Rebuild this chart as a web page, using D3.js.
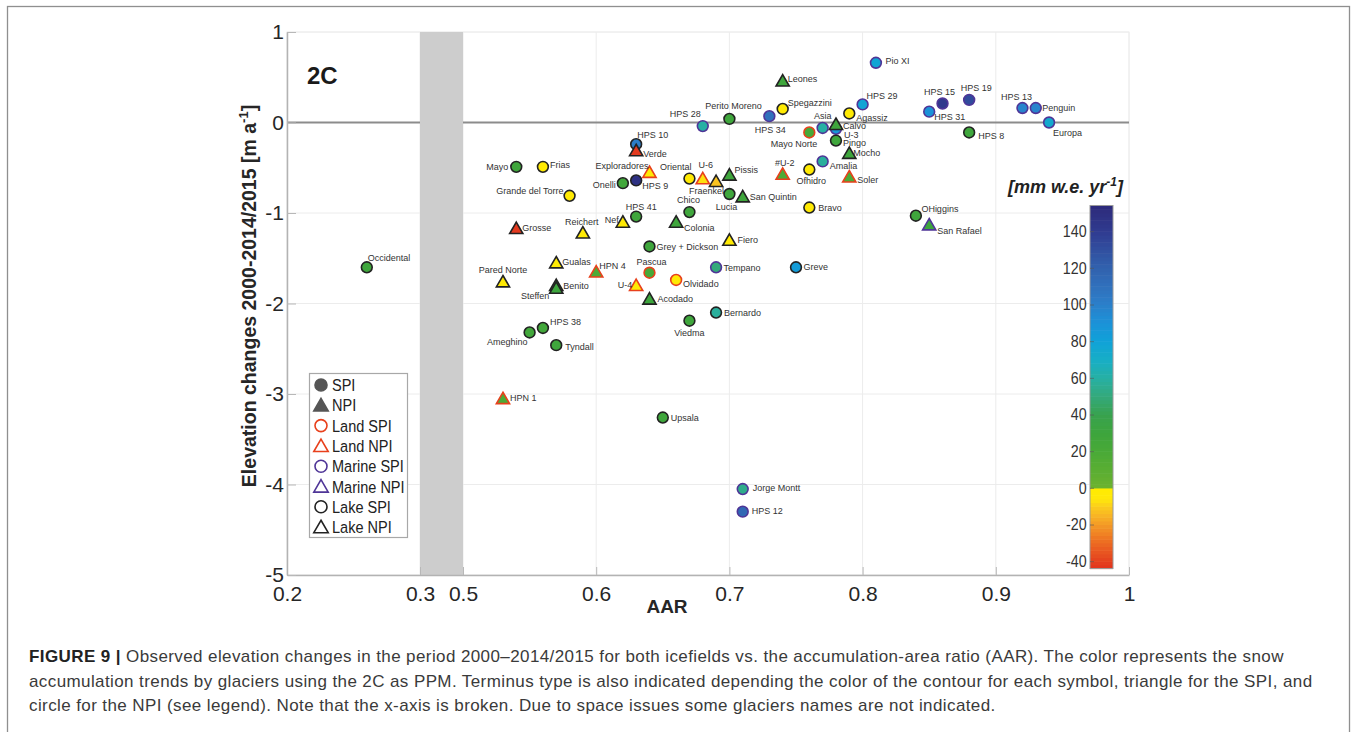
<!DOCTYPE html>
<html>
<head>
<meta charset="utf-8">
<script src="https://cdn.jsdelivr.net/npm/d3@7"></script>
<style>
  body { margin: 0; background: #fff; }
  svg text { font-family: "Liberation Sans", Arial, Helvetica, sans-serif; }
</style>
</head>
<body>
<svg id="fig" width="1357" height="732"></svg>
<script>
// ---- Glacier data: AAR, elevation change (m a-1), snow accumulation trend (mm w.e. yr-1)
const glaciers = ["Occidental","Mayo","Frias","Grande del Torre","Grosse","Reichert","Nef","HPS 41",
  "HPS 10","Verde","Exploradores","HPS 9","Onelli","Grey + Dickson","Gualas","Pared Norte",
  "Benito","Steffen","HPN 4","Pascua","U-4","HPS 38","Ameghino","Tyndall","HPN 1","Upsala",
  "Acodado","Olvidado","Viedma","Bernardo","Tempano","Greve","Jorge Montt","HPS 12","HPS 28",
  "Perito Moreno","HPS 34","Spegazzini","Agassiz","HPS 29","Asia","U-3","Calvo","Mayo Norte",
  "Pingo","Mocho","Amalia","Ofhidro","Soler","#U-2","Bravo","Oriental","U-6","Fraenkel","Pissis",
  "Lucia","San Quintin","Chico","Colonia","Fiero","Leones","Pio XI","HPS 15","HPS 31","HPS 19",
  "HPS 8","HPS 13","Penguin","Europa","OHiggins","San Rafael"];
const aar = [0.26,0.54,0.56,0.58,0.54,0.59,0.62,0.63,
  0.63,0.63,0.64,0.63,0.62,0.64,0.57,0.53,
  0.57,0.57,0.60,0.64,0.63,0.56,0.55,0.57,0.53,0.65,
  0.64,0.66,0.67,0.69,0.69,0.75,0.71,0.71,0.68,
  0.70,0.73,0.74,0.79,0.80,0.77,0.78,0.78,0.76,
  0.78,0.79,0.77,0.76,0.79,0.74,0.76,0.67,0.68,0.69,0.70,
  0.70,0.71,0.67,0.66,0.70,0.74,0.81,0.86,0.85,0.88,
  0.88,0.92,0.93,0.94,0.84,0.85];
const dhdt = [-1.60,-0.49,-0.49,-0.81,-1.17,-1.22,-1.10,-1.04,
  -0.24,-0.31,-0.55,-0.64,-0.67,-1.37,-1.55,-1.76,
  -1.80,-1.83,-1.65,-1.66,-1.80,-2.27,-2.32,-2.46,-3.05,-3.26,
  -1.95,-1.74,-2.19,-2.10,-1.60,-1.60,-4.05,-4.30,-0.04,
  0.04,0.07,0.15,0.10,0.20,-0.06,-0.07,-0.02,-0.11,
  -0.20,-0.34,-0.43,-0.52,-0.60,-0.57,-0.94,-0.62,-0.62,-0.65,-0.58,
  -0.79,-0.82,-0.99,-1.10,-1.30,0.46,0.66,0.21,0.12,0.25,
  -0.11,0.16,0.16,0.00,-1.03,-1.13];
const accumTrend = [28,28,-2,-2,-42,-3,-3,28,
  102,-42,-3,148,26,28,-3,-3,
  30,30,18,22,-3,26,26,28,18,28,
  30,-2,28,58,50,84,54,116,60,
  28,110,-2,-2,78,60,88,28,22,
  28,28,58,-2,18,18,-2,-2,-7,-12,28,
  28,28,28,28,-2,28,78,142,90,132,
  28,98,98,74,28,30];
const icefield = ["SPI","SPI","SPI","SPI","NPI","NPI","NPI","SPI",
  "SPI","NPI","NPI","SPI","SPI","SPI","NPI","NPI",
  "NPI","NPI","NPI","SPI","NPI","SPI","SPI","SPI","NPI","SPI",
  "NPI","SPI","SPI","SPI","SPI","SPI","SPI","SPI","SPI",
  "SPI","SPI","SPI","SPI","SPI","SPI","SPI","NPI","SPI",
  "SPI","NPI","SPI","SPI","NPI","NPI","SPI","SPI","NPI","NPI","NPI",
  "SPI","NPI","SPI","NPI","NPI","NPI","SPI","SPI","SPI","SPI",
  "SPI","SPI","SPI","SPI","SPI","NPI"];
const terminus = ["Lake","Lake","Lake","Lake","Lake","Lake","Lake","Lake",
  "Lake","Lake","Land","Lake","Lake","Lake","Lake","Lake",
  "Lake","Lake","Land","Land","Land","Lake","Lake","Lake","Land","Lake",
  "Lake","Land","Lake","Lake","Marine","Lake","Marine","Marine","Marine",
  "Lake","Marine","Lake","Lake","Marine","Marine","Marine","Lake","Land",
  "Lake","Lake","Marine","Lake","Land","Land","Lake","Lake","Land","Lake","Lake",
  "Lake","Lake","Lake","Lake","Lake","Lake","Marine","Marine","Marine","Marine",
  "Lake","Marine","Marine","Marine","Lake","Marine"];

// ---- Axis ticks and legend entries
const xTicks = [0.2, 0.3, 0.5, 0.6, 0.7, 0.8, 0.9, 1];
const yTicks = [1, 0, -1, -2, -3, -4, -5];
const cbTicks = [140, 120, 100, 80, 60, 40, 20, 0, -20, -40];
const legendItems = ["SPI", "NPI", "Land SPI", "Land NPI", "Marine SPI", "Marine NPI", "Lake SPI", "Lake NPI"];

// ---- Colour map for the accumulation trend (negative: yellow to red, positive: green to navy)
const cmapStops  = [-44, -40, -35, -30, -25, -20, -15, -10, -6, 0, 0.001, 10, 20, 30, 40, 50, 60, 70, 80, 90, 100, 110, 120, 130, 140, 154];
const cmapColors = ["#e2331e","#e4401f","#e85521","#ec6a22","#f08224","#f39a26","#f8b425","#fbcd1c","#ffe70a","#ffec00",
                    "#6cb22f","#5aae33","#49a937","#3da53d","#38a24e","#34a97b","#27b0a4","#17aec6","#10a2d8","#1b92d8",
                    "#2b80ca","#3070bc","#3162ae","#314f9f","#303b90","#2d2a7a"];
const cmap = d3.scaleLinear().domain(cmapStops).range(cmapColors).clamp(true);

// Terminus type sets the outline colour
const edgeColor = { Land: "#e8401c", Marine: "#4f3597", Lake: "#222222" };

// Label placement around each marker: [dx, dy, anchor]
const labelPlacement = {
  "Occidental":[1,-6.5,"start"], "Mayo":[-8,3.2,"end"], "Frias":[7,1.5,"start"],
  "Grande del Torre":[-6,-1.8,"end"], "Grosse":[6,2.2,"start"], "Reichert":[-1,-8.4,"middle"],
  "Nef":[-4,0.9,"end"], "HPS 41":[5,-6.8,"middle"], "HPS 10":[1,-6.1,"start"],
  "Verde":[7,6.8,"start"], "Exploradores":[-1,-2.8,"end"], "HPS 9":[6,8.5,"start"],
  "Onelli":[-7,4.9,"end"], "Grey + Dickson":[7,3.2,"start"], "Gualas":[6,2.2,"start"],
  "Pared Norte":[0,-8.4,"middle"], "Benito":[7,3.2,"start"], "Steffen":[-7,10.9,"end"],
  "HPN 4":[3,-2.4,"start"], "Pascua":[2,-7.8,"middle"], "U-4":[-4,2.5,"end"],
  "HPS 38":[7,-2.8,"start"], "Ameghino":[-2,12.9,"end"], "Tyndall":[9,4.8,"start"],
  "HPN 1":[7,2.9,"start"], "Upsala":[8,3.2,"start"], "Acodado":[8,3.5,"start"],
  "Olvidado":[7,7.2,"start"], "Viedma":[0,15.8,"middle"], "Bernardo":[8,3.6,"start"],
  "Tempano":[7.5,3.9,"start"], "Greve":[7.5,2.6,"start"], "Jorge Montt":[10,1.5,"start"],
  "HPS 12":[9,2.6,"start"], "HPS 28":[-2,-9.5,"end"], "Perito Moreno":[4,-9.8,"middle"],
  "HPS 34":[1,16.5,"middle"], "Spegazzini":[5,-2.8,"start"], "Agassiz":[7,7.6,"start"],
  "HPS 29":[4,-5.8,"start"], "Asia":[0,-9.1,"middle"], "U-3":[8,8.9,"start"],
  "Calvo":[7,4.9,"start"], "Mayo Norte":[8,14.2,"end"], "Pingo":[7,4.9,"start"],
  "Mocho":[4,2.6,"start"], "Amalia":[7,7.2,"start"], "Ofhidro":[2,14.9,"middle"],
  "Soler":[8,6.5,"start"], "#U-2":[2,-7.8,"middle"], "Bravo":[9,3.2,"start"],
  "Oriental":[2,-8.4,"end"], "U-6":[3,-11.1,"middle"], "Fraenkel":[8,12.5,"end"],
  "Pissis":[5,-1.8,"start"], "Lucia":[-3,16.2,"middle"], "San Quintin":[7,3.2,"start"],
  "Chico":[-1,-8.8,"middle"], "Colonia":[8,8.8,"start"], "Fiero":[8,2.5,"start"],
  "Leones":[5,0.8,"start"], "Pio XI":[9.5,1.2,"start"], "HPS 15":[-3,-8.8,"middle"],
  "HPS 31":[5,8.2,"start"], "HPS 19":[7,-8.4,"middle"], "HPS 8":[9,6.4,"start"],
  "HPS 13":[-6,-8.4,"middle"], "Penguin":[6.5,3.2,"start"], "Europa":[4,13.8,"start"],
  "OHiggins":[5.5,-3.5,"start"], "San Rafael":[8,8.8,"start"]
};

// ---- Layout
const svg = d3.select("#fig");
const plot = { left: 287, right: 1129, top: 32, bottom: 575 };

// Broken x axis: 0.2-0.3, gap, 0.5-1
const x = d3.scaleLinear().domain([0.2, 0.3, 0.5, 1]).range([plot.left, 420, 463, plot.right]);
const y = d3.scaleLinear().domain([-5, 1]).range([plot.bottom, plot.top]);

// Figure frame
svg.append("rect").attr("x", 7.5).attr("y", 6.5).attr("width", 1342).attr("height", 740)
  .attr("fill", "none").attr("stroke", "#8f8f8f").attr("stroke-width", 1.3);

// Plot background and grid
svg.append("rect").attr("x", plot.left).attr("y", plot.top)
  .attr("width", plot.right - plot.left).attr("height", plot.bottom - plot.top)
  .attr("fill", "#fff").attr("stroke", "#efefef");

const grid = svg.append("g").attr("stroke", "#ececec").attr("stroke-width", 1);
grid.selectAll("line.h").data(yTicks).join("line")
  .attr("x1", plot.left).attr("x2", plot.right).attr("y1", d => y(d)).attr("y2", d => y(d));
grid.selectAll("line.v").data(xTicks).join("line")
  .attr("x1", d => x(d)).attr("x2", d => x(d)).attr("y1", plot.top).attr("y2", plot.bottom);

// Zero reference line
svg.append("line").attr("x1", plot.left).attr("x2", plot.right)
  .attr("y1", y(0)).attr("y2", y(0)).attr("stroke", "#8c8c8c").attr("stroke-width", 2);

// Axis break band
svg.append("rect").attr("x", x(0.3)).attr("y", plot.top)
  .attr("width", x(0.5) - x(0.3)).attr("height", plot.bottom - plot.top).attr("fill", "#cdcdcd");

// Axes
const fmt = d => String(d);
const xAxis = svg.append("g").attr("transform", `translate(0,${plot.bottom})`)
  .call(d3.axisBottom(x).tickValues(xTicks).tickFormat(fmt).tickSizeInner(-8).tickSizeOuter(0).tickPadding(11));
const yAxis = svg.append("g").attr("transform", `translate(${plot.left},0)`)
  .call(d3.axisLeft(y).tickValues(yTicks).tickFormat(fmt).tickSizeInner(-9).tickSizeOuter(0).tickPadding(3));
[xAxis, yAxis].forEach(a => {
  a.select(".domain").attr("stroke", "#b3b3b3").attr("stroke-width", 1.5);
  a.selectAll(".tick line").attr("stroke", "#b8b8b8");
  a.selectAll(".tick text").attr("font-size", 21).attr("fill", "#262626");
});
xAxis.selectAll(".tick text").attr("dy", "0.72em");

// Axis titles
svg.append("text").attr("x", 667).attr("y", 613).attr("text-anchor", "middle")
  .attr("font-size", 19).attr("font-weight", "bold").attr("fill", "#262626").text("AAR");

const yTitle = svg.append("text").attr("transform", "translate(256,296) rotate(-90)")
  .attr("text-anchor", "middle").attr("font-size", 19.5).attr("font-weight", "bold").attr("fill", "#262626");
yTitle.append("tspan").text("Elevation changes 2000-2014/2015 [m a");
yTitle.append("tspan").attr("font-size", 13).attr("dy", -8).text("-1");
yTitle.append("tspan").attr("dy", 8).text("]");

// Panel tag
svg.append("text").attr("x", 307).attr("y", 84).attr("font-size", 24)
  .attr("font-weight", "bold").attr("fill", "#1a1a1a").text("2C");

// ---- Markers
const circleSym = d3.symbol().type(d3.symbolCircle).size(Math.PI * 5.4 * 5.4);
function triPath(s) {
  const h = s * Math.sqrt(3);
  return `M0,${-h * 0.55}L${s},${h * 0.45}L${-s},${h * 0.45}Z`;
}

const pts = glaciers.map((name, i) => ({
  name, aar: aar[i], dh: dhdt[i], acc: accumTrend[i], field: icefield[i], term: terminus[i]
}));

const marks = svg.append("g");
pts.forEach(p => {
  marks.append("path")
    .attr("transform", `translate(${x(p.aar)},${y(p.dh)})`)
    .attr("d", p.field === "SPI" ? circleSym() : triPath(6.6))
    .attr("fill", cmap(p.acc))
    .attr("stroke", edgeColor[p.term])
    .attr("stroke-width", 1.6);
});

const labels = svg.append("g").attr("font-size", 9).attr("fill", "#333");
pts.forEach(p => {
  const pl = labelPlacement[p.name] || [7, 3, "start"];
  labels.append("text")
    .attr("x", x(p.aar) + pl[0]).attr("y", y(p.dh) + pl[1])
    .attr("text-anchor", pl[2]).text(p.name);
});

// ---- Legend
const lg = svg.append("g");
lg.append("rect").attr("x", 309.5).attr("y", 373.5).attr("width", 98).attr("height", 164)
  .attr("fill", "#fff").attr("stroke", "#a8a8a8").attr("stroke-width", 1.2);
const legendSym = d3.symbol().type(d3.symbolCircle).size(Math.PI * 6 * 6);
legendItems.forEach((item, i) => {
  const cy = 385 + i * 20.3;
  const isSPI = item.endsWith("SPI");
  const kind = item.split(" ")[0];
  const filled = item === "SPI" || item === "NPI";
  const col = filled ? "#555" : edgeColor[kind];
  lg.append("path").attr("transform", `translate(321,${cy})`)
    .attr("d", isSPI ? legendSym() : triPath(7.2))
    .attr("fill", filled ? "#555" : "none").attr("stroke", col).attr("stroke-width", 1.6);
  lg.append("text").attr("transform", `translate(332,${cy + 6}) scale(0.88,1)`)
    .attr("font-size", 16.5).attr("fill", "#222").text(item);
});

// ---- Colour bar
const cb = d3.scaleLinear().domain([-44, 154]).range([568.5, 205.5]);
const cbX = 1090, cbW = 23;
const cbSteps = d3.range(-44, 154, 2);
svg.append("g").selectAll("rect").data(cbSteps).join("rect")
  .attr("x", cbX).attr("width", cbW)
  .attr("y", d => cb(d + 2)).attr("height", d => cb(d) - cb(d + 2) + 0.6)
  .attr("fill", d => cmap(d + 1));
svg.append("rect").attr("x", cbX).attr("y", cb(154)).attr("width", cbW).attr("height", cb(-44) - cb(154))
  .attr("fill", "none").attr("stroke", "#9a9a9a").attr("stroke-width", 1);
const cbAxis = svg.append("g").attr("transform", `translate(${cbX},0)`)
  .call(d3.axisLeft(cb).tickValues(cbTicks).tickFormat(fmt).tickSizeInner(-4).tickSizeOuter(0).tickPadding(4));
cbAxis.select(".domain").remove();
cbAxis.selectAll(".tick line").attr("stroke", "#555").attr("stroke-opacity", 0.6);
cbAxis.selectAll(".tick text").attr("font-size", 16.8).attr("fill", "#333")
  .attr("transform", "scale(0.85,1)");

const cbTitle = svg.append("text").attr("x", 1123).attr("y", 193).attr("text-anchor", "end")
  .attr("font-size", 18).attr("font-weight", "bold").attr("font-style", "italic").attr("fill", "#222");
cbTitle.append("tspan").text("[mm w.e. yr");
cbTitle.append("tspan").attr("font-size", 12).attr("dy", -7).text("-1");
cbTitle.append("tspan").attr("dy", 7).text("]");

// ---- Caption
const caption = [
  ["FIGURE 9 | ", "Observed elevation changes in the period 2000\u20132014/2015 for both icefields vs. the accumulation-area ratio (AAR). The color represents the snow"],
  ["", "accumulation trends by glaciers using the 2C as PPM. Terminus type is also indicated depending the color of the contour for each symbol, triangle for the SPI, and"],
  ["", "circle for the NPI (see legend). Note that the x-axis is broken. Due to space issues some glaciers names are not indicated."]
];
caption.forEach((ln, i) => {
  const t = svg.append("text").attr("x", 29).attr("y", 662 + i * 24.5)
    .attr("font-size", 17).attr("letter-spacing", 0.4).attr("fill", "#3a3a3a");
  if (ln[0]) t.append("tspan").attr("font-weight", "bold").attr("fill", "#222").text(ln[0]);
  t.append("tspan").text(ln[1]);
});
</script>
</body>
</html>
